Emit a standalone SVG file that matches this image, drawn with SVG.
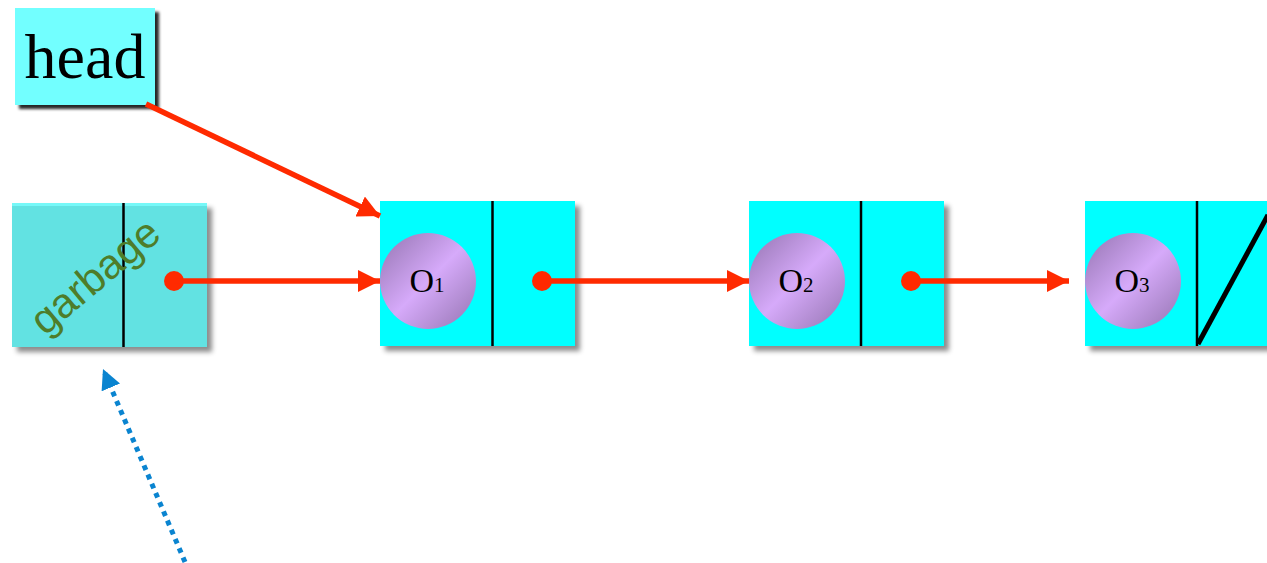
<svg xmlns="http://www.w3.org/2000/svg" width="1267" height="563" viewBox="0 0 1267 563">
<defs>
<style>
.node{fill:#00FFFF;}
.div{stroke:#000;stroke-width:2.5;}
.red{stroke:#FF2A00;stroke-width:5.5;fill:none;}
.dot{fill:#FF2A00;}
.otext{font-family:"Liberation Serif","Times New Roman",serif;font-size:34px;fill:#000;}
.sub{font-size:21px;}
</style>
<filter id="sh" x="-10%" y="-10%" width="130%" height="130%">
<feDropShadow dx="5" dy="5" stdDeviation="2.5" flood-color="#000" flood-opacity="0.45"/>
</filter>
<filter id="shd" x="-10%" y="-10%" width="130%" height="130%">
<feDropShadow dx="4" dy="4" stdDeviation="1.8" flood-color="#000" flood-opacity="0.85"/>
</filter>
<linearGradient id="ball" x1="0" y1="0" x2="1" y2="1">
<stop offset="0" stop-color="#9474B0"/>
<stop offset="0.5" stop-color="#D6AAFA"/>
<stop offset="1" stop-color="#9474B0"/>
</linearGradient>
<marker id="ar" markerUnits="userSpaceOnUse" markerWidth="22" markerHeight="22" viewBox="0 0 20 20" refX="20" refY="10" orient="auto">
<path d="M0,0 L20,10 L0,20 Z" fill="#FF2A00"/>
</marker>
<marker id="ab" markerUnits="userSpaceOnUse" markerWidth="20" markerHeight="20" viewBox="0 0 18 18" refX="18" refY="9" orient="auto">
<path d="M0,0 L18,9 L0,18 Z" fill="#0A84D0"/>
</marker>
</defs>
<rect width="1267" height="563" fill="#fff"/>

<g id="head">
<rect x="15" y="8" width="140" height="97" fill="#72FFFF" filter="url(#shd)"/>
<text x="85" y="78" text-anchor="middle" font-family="'Liberation Serif','Times New Roman',serif" font-size="64" fill="#000">head</text>
</g>

<g id="garbage">
<rect x="12" y="203" width="195" height="144" fill="#62E2E2" filter="url(#sh)"/>
<rect x="12" y="203" width="195" height="3" fill="#76F8F8"/>
<line x1="123.5" y1="203" x2="123.5" y2="347" class="div" stroke-width="2"/>
<text transform="translate(104,287) rotate(-40)" text-anchor="middle" font-family="'Liberation Sans',Arial,sans-serif" font-size="42" fill="#4E7D2A">garbage</text>
</g>

<g id="node1">
<rect x="380" y="201" width="195" height="145" class="node" filter="url(#sh)"/>
<line x1="492.5" y1="201" x2="492.5" y2="346" class="div"/>
<circle cx="428" cy="281" r="48" fill="url(#ball)"/>
<text x="427" y="292" text-anchor="middle" class="otext">O<tspan class="sub">1</tspan></text>
</g>

<g id="node2">
<rect x="749" y="201" width="195" height="145" class="node" filter="url(#sh)"/>
<line x1="861" y1="201" x2="861" y2="346" class="div"/>
<circle cx="797" cy="281" r="48" fill="url(#ball)"/>
<text x="796" y="292" text-anchor="middle" class="otext">O<tspan class="sub">2</tspan></text>
</g>

<g id="node3">
<rect x="1085" y="201" width="195" height="145" class="node" filter="url(#sh)"/>
<line x1="1197" y1="201" x2="1197" y2="346" class="div"/>
<circle cx="1133" cy="281" r="48" fill="url(#ball)"/>
<text x="1132" y="292" text-anchor="middle" class="otext">O<tspan class="sub">3</tspan></text>
<line x1="1198" y1="344" x2="1268" y2="215" stroke="#000" stroke-width="5"/>
</g>

<g id="connectors">
<line x1="146" y1="104" x2="380" y2="216" class="red" marker-end="url(#ar)"/>
<circle cx="174" cy="281" r="10" class="dot"/>
<line x1="174" y1="281" x2="380" y2="281" class="red" marker-end="url(#ar)"/>
<circle cx="542" cy="281" r="10" class="dot"/>
<line x1="542" y1="281" x2="749" y2="281" class="red" marker-end="url(#ar)"/>
<circle cx="911" cy="281" r="10" class="dot"/>
<line x1="911" y1="281" x2="1069" y2="281" class="red" marker-end="url(#ar)"/>
<line x1="185" y1="562" x2="103" y2="369" stroke="#0A84D0" stroke-width="5" stroke-dasharray="5 5" marker-end="url(#ab)"/>
</g>
</svg>
